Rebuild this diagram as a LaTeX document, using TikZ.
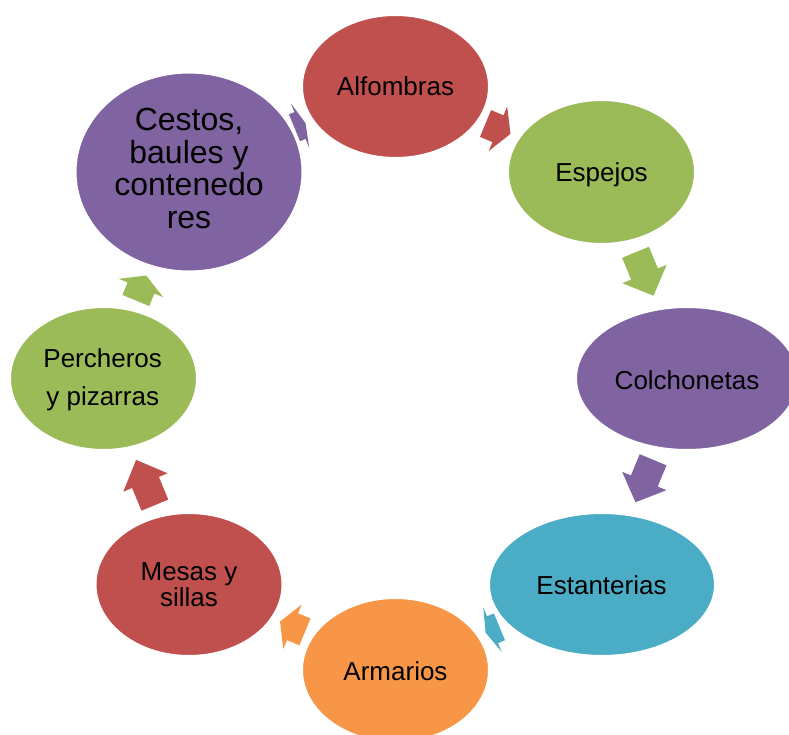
\documentclass[tikz,border=0pt]{standalone}
\usepackage{fontspec}
\setmainfont{Liberation Sans}
\usetikzlibrary{shapes.geometric}
\definecolor{cRed}{HTML}{C0504D}
\definecolor{cGreen}{HTML}{9BBB59}
\definecolor{cPurple}{HTML}{8064A2}
\definecolor{cAqua}{HTML}{4BACC6}
\definecolor{cOrange}{HTML}{F79646}
\begin{document}
\begin{tikzpicture}[x=1pt,y=-1pt,
  ell/.style={ellipse, draw=white, line width=2pt, inner sep=0pt},
  lbl/.style={font=\fontsize{26}{26}\selectfont, inner sep=0pt, align=center},
  pics/blk/.style args={#1/#2}{code={
    \fill[#2] (-#1/2,-14.5) -- (0,-14.5) -- (0,-24) -- (#1/2,0) -- (0,24) -- (0,14.5) -- (-#1/2,14.5) -- cycle;}}]
\clip (0,0) rectangle (789,735);
\fill[white] (0,0) rectangle (789,735);
% block arrows (drawn under the ellipses)
\pic[rotate=-22.5]  (a1) at (498,128.7)   {blk={27/cRed}};
\pic[rotate=-67.5]  (a2) at (644.5,274)   {blk={47/cGreen}};
\pic[rotate=-112.5] (a3) at (644.3,481)   {blk={46/cPurple}};
\pic[rotate=-157.5] (a4) at (492.5,629.7) {blk={15/cAqua}};
\pic[rotate=157.5]  (a5) at (292.5,626.7) {blk={27/cOrange}};
\pic[rotate=112.5]  (a6) at (145.5,482.5) {blk={49/cRed}};
\pic[rotate=67.5]   (a7) at (141,288)     {blk={27/cGreen}};
\pic[rotate=22.5]   (a8) at (300,125.5)   {blk={12/cPurple}};
% ellipses
\node[ell, fill=cRed,    minimum width=187pt, minimum height=143pt] (alf) at (395.5,86.5) {};
\node[ell, fill=cGreen,  minimum width=187pt, minimum height=144pt] (esp) at (601.5,172) {};
\node[ell, fill=cPurple, minimum width=222pt, minimum height=143pt] (col) at (687,378.5) {};
\node[ell, fill=cAqua,   minimum width=226pt, minimum height=143pt] (est) at (602,584.5) {};
\node[ell, fill=cOrange, minimum width=187pt, minimum height=144pt] (arm) at (395.5,670) {};
\node[ell, fill=cRed,    minimum width=187pt, minimum height=143pt] (mes) at (189,584.5) {};
\node[ell, fill=cGreen,  minimum width=187pt, minimum height=143pt] (per) at (103.5,378.5) {};
\node[ell, fill=cPurple, minimum width=227pt, minimum height=199pt] (ces) at (189,172) {};
% labels
\node[lbl, anchor=base] (alf-t) at (395.5,96) {Alfombras};
\node[lbl, anchor=base] (esp-t) at (601.5,182) {Espejos};
\node[lbl, anchor=base] (col-t) at (687,389) {Colchonetas};
\node[lbl, anchor=base] (est-t) at (601.5,594.5) {Estanterias};
\node[lbl, anchor=base] (arm-t) at (395.5,680.5) {Armarios};
\node[lbl, font=\fontsize{26}{26.6}\selectfont] (mes-t) at (189,584.5) {Mesas y\\sillas};
\node[lbl, font=\fontsize{26}{38}\selectfont] (per-t) at (102.7,380.2) {Percheros\\y pizarras};
\node[lbl, font=\fontsize{32}{32.5}\selectfont] (ces-t) at (189,168.7) {Cestos,\\baules y\\contenedo\\res};
\end{tikzpicture}
\end{document}
